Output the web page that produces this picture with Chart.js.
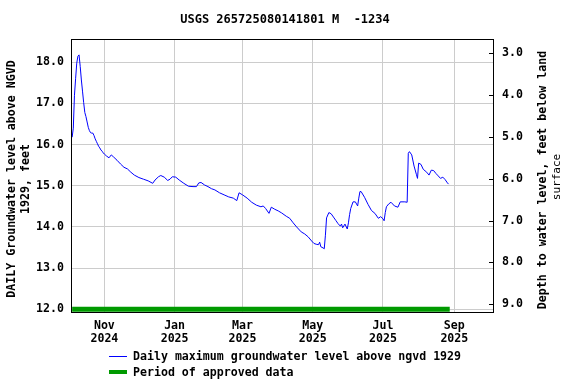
<!DOCTYPE html>
<html><head><meta charset="utf-8">
<script src="https://cdn.jsdelivr.net/npm/chart.js@4.4.1/dist/chart.umd.min.js"></script>
<style>html,body{margin:0;padding:0;background:#fff}</style>
</head><body>
<canvas id="c" width="576" height="384"></canvas>
<script>
const titleText = "USGS 265725080141801 M  -1234";
const leftAxisTitle = ["DAILY Groundwater level above NGVD", "1929, feet"];
const rightAxisTitle = ["Depth to water level, feet below land", "surface"];
const legendLabels = ["Daily maximum groundwater level above ngvd 1929", "Period of approved data"];

const dates = [
"2024-10-04","2024-10-05","2024-10-06","2024-10-07","2024-10-08","2024-10-09","2024-10-10","2024-10-11","2024-10-12","2024-10-13",
"2024-10-14","2024-10-15","2024-10-16","2024-10-17","2024-10-18","2024-10-19","2024-10-20","2024-10-21","2024-10-22","2024-10-23",
"2024-10-24","2024-10-25","2024-10-26","2024-10-27","2024-10-28","2024-10-29","2024-10-30","2024-10-31","2024-11-01","2024-11-03",
"2024-11-05","2024-11-07","2024-11-09","2024-11-12","2024-11-15","2024-11-18","2024-11-21","2024-11-24","2024-11-27","2024-12-01",
"2024-12-05","2024-12-09","2024-12-13","2024-12-15","2024-12-18","2024-12-20","2024-12-23","2024-12-26","2024-12-28","2024-12-30",
"2025-01-02","2025-01-05","2025-01-09","2025-01-13","2025-01-17","2025-01-20","2025-01-22","2025-01-24","2025-01-27","2025-01-30",
"2025-02-02","2025-02-05","2025-02-09","2025-02-13","2025-02-17","2025-02-21","2025-02-24","2025-02-26","2025-03-01","2025-03-05",
"2025-03-09","2025-03-13","2025-03-17","2025-03-19","2025-03-21","2025-03-24","2025-03-26","2025-03-29","2025-04-01","2025-04-04",
"2025-04-08","2025-04-11","2025-04-14","2025-04-17","2025-04-21","2025-04-24","2025-04-27","2025-04-30","2025-05-02","2025-05-04",
"2025-05-06","2025-05-07","2025-05-08","2025-05-10","2025-05-11","2025-05-12","2025-05-13","2025-05-15","2025-05-17","2025-05-19",
"2025-05-21","2025-05-23","2025-05-25","2025-05-26","2025-05-27","2025-05-29","2025-05-31","2025-06-01","2025-06-02","2025-06-03",
"2025-06-05","2025-06-07","2025-06-09","2025-06-10","2025-06-11","2025-06-12","2025-06-15","2025-06-18","2025-06-21","2025-06-24",
"2025-06-27","2025-06-29","2025-07-01","2025-07-02","2025-07-03","2025-07-04","2025-07-06","2025-07-08","2025-07-11","2025-07-14",
"2025-07-16","2025-07-20","2025-07-22","2025-07-23","2025-07-24","2025-07-26","2025-07-28","2025-07-30","2025-07-31","2025-08-01",
"2025-08-03","2025-08-05","2025-08-08","2025-08-10","2025-08-12","2025-08-14","2025-08-16","2025-08-18","2025-08-20","2025-08-22",
"2025-08-24","2025-08-26","2025-08-27"];

const levels = [
16.18,16.40,17.20,17.60,17.98,18.15,18.18,17.90,17.57,17.30,
17.02,16.78,16.68,16.55,16.42,16.34,16.29,16.28,16.28,16.22,
16.14,16.08,16.02,15.96,15.92,15.87,15.84,15.80,15.77,15.72,
15.68,15.75,15.70,15.62,15.53,15.45,15.41,15.33,15.26,15.20,
15.16,15.12,15.06,15.14,15.22,15.25,15.21,15.13,15.16,15.22,
15.21,15.14,15.06,14.99,14.98,14.98,15.07,15.08,15.02,14.98,
14.93,14.90,14.83,14.78,14.73,14.70,14.64,14.83,14.78,14.70,
14.60,14.53,14.49,14.51,14.45,14.33,14.48,14.43,14.39,14.34,
14.26,14.21,14.10,14.00,13.88,13.83,13.76,13.66,13.60,13.58,
13.57,13.63,13.52,13.49,13.47,13.80,14.22,14.35,14.32,14.24,
14.16,14.08,14.02,14.07,13.98,14.07,13.95,14.10,14.30,14.45,
14.61,14.61,14.51,14.70,14.86,14.86,14.72,14.55,14.40,14.33,
14.21,14.25,14.20,14.15,14.35,14.49,14.56,14.60,14.51,14.48,
14.61,14.61,14.60,15.79,15.83,15.75,15.48,15.28,15.18,15.55,
15.52,15.40,15.33,15.26,15.38,15.37,15.30,15.24,15.18,15.21,
15.15,15.07,15.04];

const approvedDates = ["2024-10-04", "2025-08-28"];
const approvedLevels = [12.0, 12.0];

const xRange = ["2024-10-03", "2025-10-04"];
const xTickDates = ["2024-11-01","2025-01-01","2025-03-01","2025-05-01","2025-07-01","2025-09-01"];
const xTickLabels = [["Nov","2024"],["Jan","2025"],["Mar","2025"],["May","2025"],["Jul","2025"],["Sep","2025"]];
const leftTicks = [12,13,14,15,16,17,18];
const leftRange = [11.934, 18.566];
const rightTicks = [3,4,5,6,7,8,9];
const rightRange = [2.666, 9.184];

function toMs(s){ const [y,m,d] = s.split('-').map(Number); return Date.UTC(y, m-1, d); }
const xTickMs = xTickDates.map(toMs);

const MONO = "'DejaVu Sans Mono', 'Liberation Mono', monospace";

const framePlugin = {
  id: 'frame',
  afterDraw(chart) {
    const ctx = chart.ctx;
    const a = chart.chartArea;
    ctx.save();
    // frame
    ctx.strokeStyle = '#000';
    ctx.lineWidth = 1;
    ctx.strokeRect(a.left + 0.5, a.top + 0.5, a.right - a.left, a.bottom - a.top);
    // inner ticks on right axis
    const y2 = chart.scales.y2;
    ctx.beginPath();
    rightTicks.forEach(v => {
      const py = Math.round(y2.getPixelForValue(v)) + 0.5;
      ctx.moveTo(a.right - 4, py);
      ctx.lineTo(a.right + 1, py);
    });
    ctx.stroke();
    // title
    ctx.fillStyle = '#000';
    ctx.textBaseline = 'middle';
    ctx.textAlign = 'center';
    ctx.font = "bold 12px " + MONO;
    ctx.fillText(titleText, 285, 20);
    // left axis title
    ctx.font = "bold 11.6px " + MONO;
    ctx.save();
    ctx.translate(12, 179);
    ctx.rotate(-Math.PI / 2);
    ctx.fillText(leftAxisTitle[0], 0, 0);
    ctx.restore();
    ctx.save();
    ctx.translate(26, 179);
    ctx.rotate(-Math.PI / 2);
    ctx.fillText(leftAxisTitle[1], 0, 0);
    ctx.restore();
    // right axis title
    ctx.save();
    ctx.translate(543, 180);
    ctx.rotate(-Math.PI / 2);
    ctx.fillText(rightAxisTitle[0], 0, 0);
    ctx.restore();
    ctx.save();
    ctx.translate(557, 177);
    ctx.rotate(-Math.PI / 2);
    ctx.font = "11px " + MONO;
    ctx.fillText(rightAxisTitle[1], 0, 0);
    ctx.restore();
    // legend
    ctx.font = "bold 11.6px " + MONO;
    ctx.textAlign = 'left';
    ctx.strokeStyle = '#0000ff';
    ctx.lineWidth = 1;
    ctx.beginPath();
    ctx.moveTo(109, 356.5); ctx.lineTo(127, 356.5);
    ctx.stroke();
    ctx.fillText(legendLabels[0], 133, 357);
    ctx.strokeStyle = '#009a00';
    ctx.lineWidth = 4;
    ctx.beginPath();
    ctx.moveTo(109, 372); ctx.lineTo(127, 372);
    ctx.stroke();
    ctx.fillText(legendLabels[1], 133, 373);
    ctx.restore();
  }
};

const tickFont = { family: MONO, weight: 'bold', size: 11.6, lineHeight: '13.3px' };

new Chart(document.getElementById('c'), {
  type: 'line',
  data: {
    datasets: [
      {
        label: legendLabels[1],
        data: approvedDates.map((d, i) => ({ x: toMs(d), y: approvedLevels[i] })),
        borderColor: '#009a00',
        borderWidth: 5,
        borderCapStyle: 'butt',
        pointRadius: 0,
        yAxisID: 'y',
        order: 2
      },
      {
        label: legendLabels[0],
        data: dates.map((d, i) => ({ x: toMs(d), y: levels[i] })),
        borderColor: '#0000ff',
        borderWidth: 1,
        pointRadius: 0,
        tension: 0,
        yAxisID: 'y',
        order: 1
      }
    ]
  },
  options: {
    responsive: false,
    animation: false,
    devicePixelRatio: 1,
    layout: { padding: { top: 39, left: 0, right: 0, bottom: 0 } },
    plugins: { legend: { display: false }, title: { display: false }, tooltip: { enabled: false } },
    scales: {
      x: {
        type: 'linear',
        min: toMs(xRange[0]),
        max: toMs(xRange[1]) + 14 * 3600 * 1000,
        afterFit(s) { s.height = 72; },
        afterBuildTicks(s) { s.ticks = xTickMs.map(v => ({ value: v })); },
        ticks: {
          autoSkip: false,
          maxRotation: 0,
          padding: 7,
          color: '#000',
          font: tickFont,
          callback(v) { const i = xTickMs.indexOf(v); return i >= 0 ? xTickLabels[i] : ''; }
        },
        grid: { color: '#cccccc', lineWidth: 1, drawTicks: false },
        border: { display: false }
      },
      y: {
        type: 'linear',
        position: 'left',
        min: leftRange[0],
        max: leftRange[1],
        afterFit(s) { s.width = 71; },
        afterBuildTicks(s) { s.ticks = leftTicks.map(v => ({ value: v })); },
        ticks: { padding: 7, color: '#000', font: tickFont, callback(v) { return Number(v).toFixed(1); } },
        grid: { color: '#cccccc', lineWidth: 1, drawTicks: false },
        border: { display: false }
      },
      y2: {
        type: 'linear',
        position: 'right',
        reverse: true,
        min: rightRange[0],
        max: rightRange[1],
        afterFit(s) { s.width = 83; },
        afterBuildTicks(s) { s.ticks = rightTicks.map(v => ({ value: v })); },
        ticks: { padding: 9, color: '#000', font: tickFont, callback(v) { return Number(v).toFixed(1); } },
        grid: { display: false, drawTicks: false },
        border: { display: false }
      }
    }
  },
  plugins: [framePlugin]
});
</script>
</body></html>
